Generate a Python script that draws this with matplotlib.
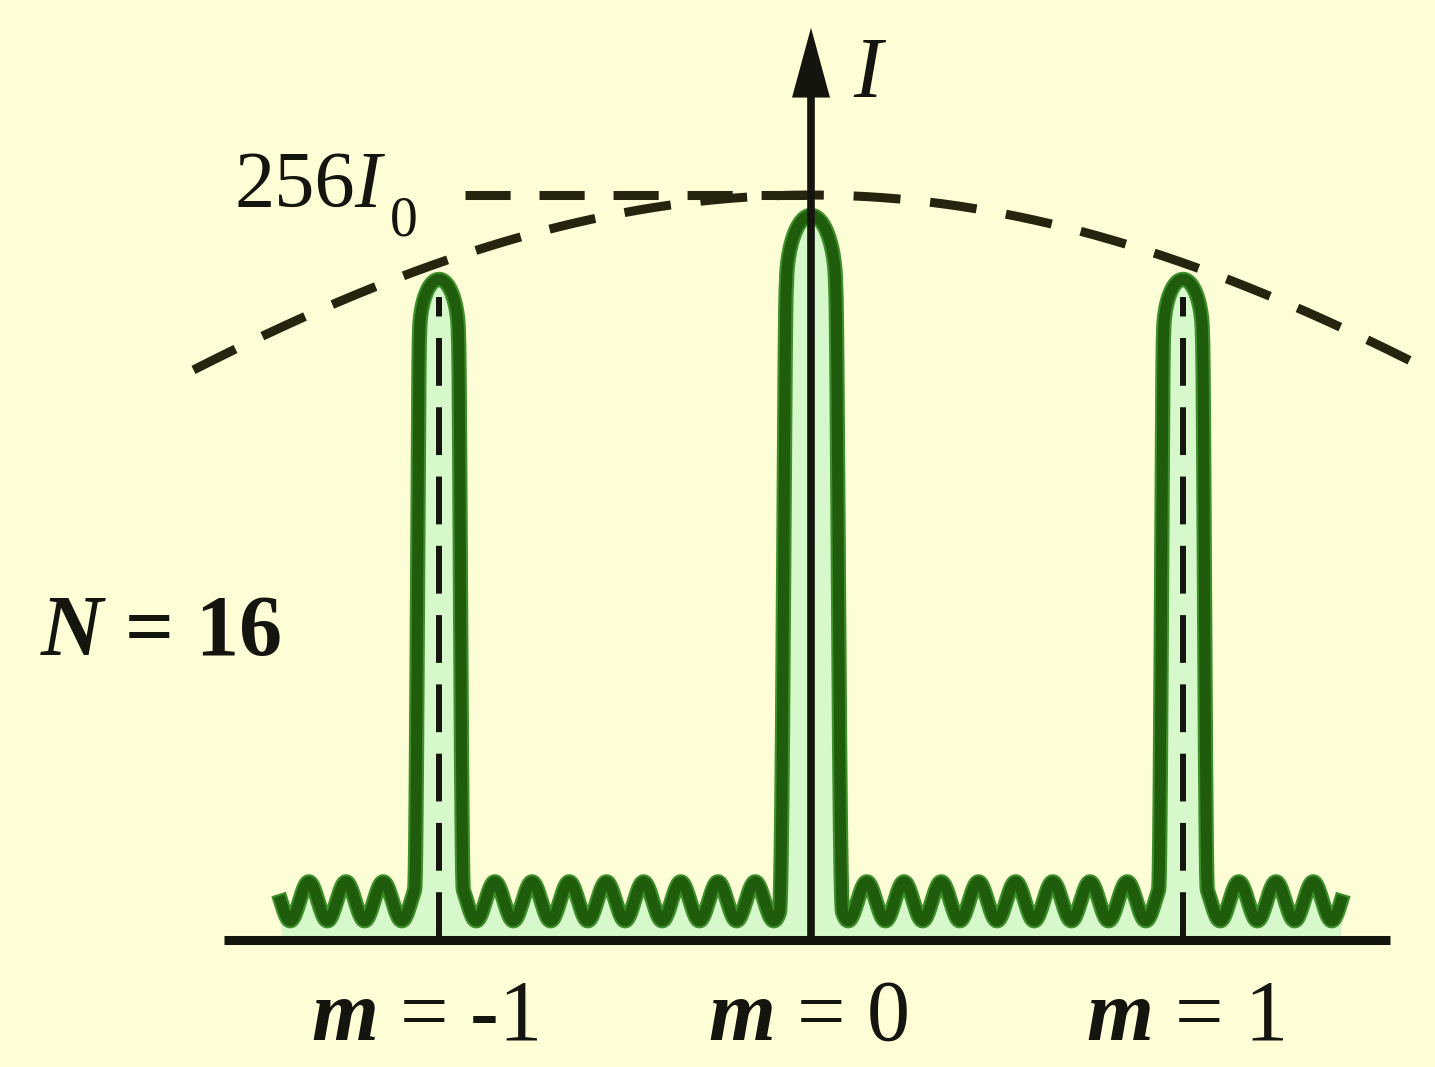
import numpy as np
import matplotlib
matplotlib.use("Agg")
import matplotlib.pyplot as plt

# ---- data -------------------------------------------------------------
slit_count = 16
orders = [-1, 0, 1]                      # principal maxima (order m)
peak_heights = [227, 249, 227]           # principal maxima, in I0
peak_widths = [0.052, 0.066, 0.052]      # half-width of each principal peak (m units)
peak_caps = [18.5, 24.0, 18.5]           # height of the rounded crest of each peak, in I0
flank_softness = 0.15                    # foot of the flanks, in units of the half-width
ripple_mean = 13.3                       # secondary maxima band, in I0
ripple_amp = 6.7
ripple_period = 0.1                      # spacing of secondary maxima (m units)
curve_range = (-1.425, 1.425)
envelope_peak = 256                      # N^2 * I0
envelope_zero = 5.9                      # first zero of the single-slit envelope (m units)
envelope_range = (-1.66, 1.61)
order_labels = ["$\\mathbf{m}$ = -1", "$\\mathbf{m}$ = 0", "$\\mathbf{m}$ = 1"]
peak_label = ("256", "$I$", "0")
axis_label = "$I$"
n_label = "$\\mathbf{N}$ = 16"

# ---- layout (pixels of a 1435x1067 canvas) -----------------------------
W, H, DPI = 1435, 1067, 100
X0, Y0 = 811, 940          # origin of the intensity axis
PX_M, PX_I = 372, 2.91     # pixels per order, pixels per I0

BG = "#fefed6"
GREEN = "#1f5c0c"
GREEN_EDGE = "#3f8f2c"
FILL = "#d6f8ca"
DARK = "#151510"

plt.rcParams["mathtext.fontset"] = "custom"
plt.rcParams["mathtext.rm"] = "Liberation Serif"
plt.rcParams["mathtext.it"] = "Liberation Serif:italic"
plt.rcParams["mathtext.bf"] = "Liberation Serif:bold:italic"
plt.rcParams["font.family"] = ["Liberation Serif", "DejaVu Serif"]

fig = plt.figure(figsize=(W / DPI, H / DPI), dpi=DPI, facecolor=BG)
ax = fig.add_axes([0, 0, 1, 1])
ax.set_facecolor(BG)
ax.set_xlim(-X0 / PX_M, (W - X0) / PX_M)
ax.set_ylim(-(H - Y0) / PX_I, Y0 / PX_I)
ax.axis("off")


def px(x, y):
    """canvas pixel -> data coordinates (used for text placement)"""
    return (x - X0) / PX_M, (Y0 - y) / PX_I


# ---- intensity profile ---------------------------------------------------
# secondary maxima as a ripple band, principal maxima as tall bullet-shaped
# peaks (steep flanks with an elliptical crest), joined by a soft maximum
u = np.linspace(curve_range[0], curve_range[1], 12001)
ripple = ripple_mean - ripple_amp * np.cos(2 * np.pi * u / ripple_period)
peaks = np.zeros_like(u)
for m, h, w, b in zip(orders, peak_heights, peak_widths, peak_caps):
    r = np.abs(u - m) / w
    crest = h - b + b * np.sqrt(np.clip(1 - r ** 2, 0, 1))
    flank = (h - b) * np.exp(-((r - 1) / flank_softness) ** 2)
    peaks = np.maximum(peaks, np.where(r <= 1, crest, flank))
k = 5
intensity = (ripple ** k + peaks ** k) ** (1 / k)

ax.fill_between(u, 0, intensity, color=FILL, lw=0, zorder=1)

# order markers inside the side peaks
for m, h in zip(orders, peak_heights):
    if m == 0:
        continue
    ax.plot([m, m], [0, h - 6], color=DARK, lw=4.3, dashes=(8.0, 3.6),
            solid_capstyle="butt", dash_capstyle="butt", zorder=2)

ax.plot(u, intensity, color=GREEN_EDGE, lw=11, solid_joinstyle="round", zorder=3)
ax.plot(u, intensity, color=GREEN, lw=8, solid_joinstyle="round", zorder=4)

# ---- single-slit envelope -------------------------------------------------
ue = np.linspace(envelope_range[0], envelope_range[1], 800)
beta = np.pi * ue / envelope_zero
env = envelope_peak * (np.sin(beta) / beta) ** 2
ax.plot(ue, env, color="#24240f", lw=6.5, dashes=(5.2, 3.3),
        dash_capstyle="butt", zorder=5)

# reference level N^2 I0
ax.plot([-0.93, 0], [envelope_peak, envelope_peak], color="#24240f", lw=6.5,
        dashes=(5.0, 3.2), dash_capstyle="butt", zorder=5)

# ---- axes ---------------------------------------------------------------
ax.plot([-1.578, 1.556], [0, 0], color=DARK, lw=6.5, solid_capstyle="butt", zorder=6)
axis_top = 313.5
head_len = 24.0
head_half = 0.051
ax.plot([0, 0], [0, axis_top - head_len + 2], color=DARK, lw=5.5,
        solid_capstyle="butt", zorder=6)
ax.fill([-head_half, head_half, 0], [axis_top - head_len, axis_top - head_len, axis_top],
        color=DARK, lw=0, zorder=6)

# ---- text -----------------------------------------------------------------
FS = 62
ax.text(*px(853, 97), axis_label, fontsize=FS, ha="left", va="baseline", color=DARK)

# level label: "256", italic I and a lowered subscript 0, set side by side
renderer = fig.canvas.get_renderer()
t_num = ax.text(*px(235, 207), peak_label[0], fontsize=58, ha="left",
                va="baseline", color=DARK)
right = t_num.get_window_extent(renderer).x1
t_i = ax.text(*px(right - 2, 207), peak_label[1], fontsize=58, ha="left",
              va="baseline", color=DARK)
right = t_i.get_window_extent(renderer).x1
ax.text(*px(right + 4, 235), peak_label[2], fontsize=40, ha="left",
        va="baseline", color=DARK)

ax.text(*px(40, 655), n_label, fontsize=FS, ha="left", va="baseline", color=DARK,
        fontweight="bold")
for m, lab, dx in zip(orders, order_labels, [-14, -3, 2]):
    ax.text(m + dx / PX_M, px(0, 1040)[1], lab, fontsize=FS, ha="center",
            va="baseline", color=DARK)

fig.savefig("out.png", dpi=DPI, facecolor=BG)
